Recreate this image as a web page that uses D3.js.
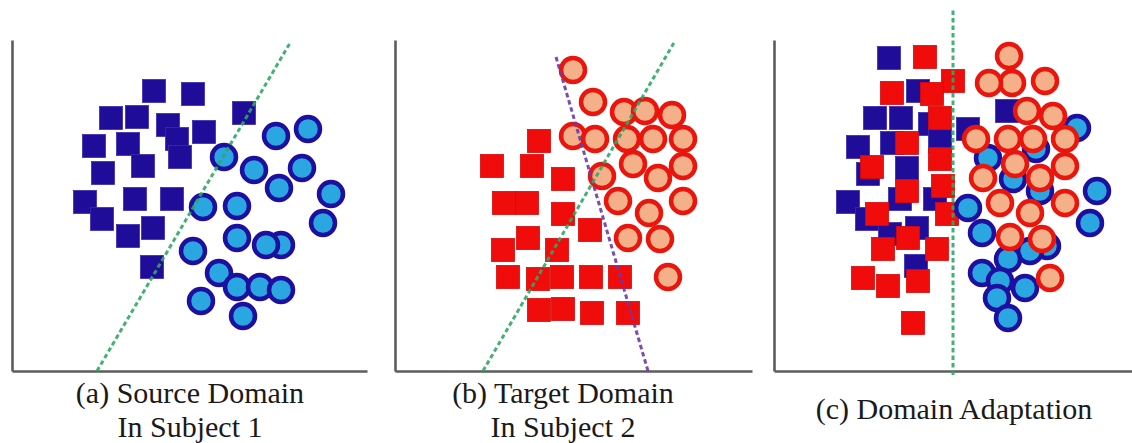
<!DOCTYPE html>
<html>
<head>
<meta charset="utf-8">
<script src="https://cdn.jsdelivr.net/npm/d3@7"></script>
<style>
  html, body { margin: 0; padding: 0; background: #ffffff; }
  svg { display: block; }
  .caption { font-family: "Liberation Serif", "Times New Roman", "DejaVu Serif", serif; }
</style>
</head>
<body>
<svg id="fig" width="1132" height="443"></svg>
<script>
// Feature-space coordinates (x, y) of each sample, per panel.

// (a) Source domain, subject 1
const sourceClassA_a = [
  [142,280],[181,277],[99,253],[125,254],[156,246],[232,258],[192,239],[82,225],
  [116,227],[165,232],[168,214],[91,198],[131,205],[73,169],[123,172],[160,172],
  [90,152],[116,135],[141,143],[140,104]
];
const sourceClassB_a = [
  [212,214],[264,235],[296,242],[242,201],[290,203],[267,183],[319,177],[191,164],
  [225,165],[311,148],[225,133],[269,126],[254,126],[181,120],[207,98],[225,84],
  [248,84],[269,81],[189,70],[231,55]
];
const boundarySource_a = [[85,0],[278,328]];

// (b) Target domain, subject 2
const targetClassA_b = [
  [144,230],[97,205],[137,205],[168,192],[109,168],[132,168],[168,157],[195,141],
  [133,133],[108,121],[162,121],[113,94],[143,92],[167,94],[196,94],[225,94],
  [144,61],[168,62],[197,58],[233,58]
];
const targetClassB_b = [
  [178,301],[198,269],[229,259],[250,260],[277,256],[178,235],[200,232],[232,232],
  [258,232],[288,232],[238,207],[288,205],[207,195],[263,193],[223,170],[288,170],
  [254,158],[233,133],[265,132],[273,94]
];
const boundarySource_b = [[88,0],[280,330]];
const boundaryTarget_b = [[161,314],[253,0]];

// (c) Domain adaptation: both domains in a shared space
const sourceClassA_c = [
  [115,313],[144,280],[101,253],[127,253],[156,247],[84,224],[118,228],[166,230],
  [94,197],[133,203],[74,169],[126,172],[161,172],[93,152],[143,143],[116,137],
  [142,105],[233,260],[194,242]
];
const targetClassA_c = [
  [151,314],[179,290],[118,278],[158,277],[166,253],[133,228],[166,212],[98,204],
  [133,180],[169,185],[103,157],[173,157],[134,133],[109,122],[163,122],[89,93],
  [114,85],[144,90],[139,48]
];
const sourceClassB_c = [
  [303,243],[214,213],[323,180],[194,163],[316,148],[208,138],[273,125],[256,120],
  [234,112],[208,98],[251,83],[226,90],[223,73],[234,53],[266,180],[239,192],
  [262,222]
];
const targetClassB_c = [
  [235,315],[238,288],[215,288],[271,290],[253,260],[279,255],[202,232],[234,232],
  [259,232],[291,232],[241,207],[291,205],[209,193],[266,193],[226,168],[291,168],
  [256,158],[236,134],[268,132],[276,93]
];
const boundaryShared_c = [[179,-4],[179,362]];

const captions = [
  ["(a) Source Domain", "In Subject 1"],
  ["(b) Target Domain", "In Subject 2"],
  ["(c) Domain Adaptation"]
];

// ---- styling ----
const style = {
  navy: "#1f0c98", navyEdge: "#3a2cb0",
  red: "#f10c0c", redEdge: "#d80808",
  blueFill: "#2aa6e0", blueEdge: "#1d0fa0",
  peachFill: "#f4b189", peachEdge: "#ea150c",
  green: "#2fa866", purple: "#6a3aa8",
  axis: "#5c5c5c"
};
const SQ = 23, R = 12, RING = 4.5;

const svg = d3.select("#fig");

const panels = [
  { x0: 12,  x1: 367,  yTop: 40, yBot: 371 },
  { x0: 395, x1: 752,  yTop: 40, yBot: 371 },
  { x0: 774, x1: 1132, yTop: 40, yBot: 371 }
];

function makeScales(p) {
  const x = d3.scaleLinear().domain([0, p.x1 - p.x0]).range([p.x0, p.x1]);
  const y = d3.scaleLinear().domain([0, p.yBot - p.yTop]).range([p.yBot, p.yTop]);
  return { x, y };
}

function drawAxes(g, p, s) {
  const ax = g.append("g").attr("transform", `translate(0,${p.yBot})`)
    .call(d3.axisBottom(s.x).ticks(0).tickSizeOuter(0));
  const ay = g.append("g").attr("transform", `translate(${p.x0},0)`)
    .call(d3.axisLeft(s.y).ticks(0).tickSizeOuter(0));
  [ax, ay].forEach(a => a.select(".domain")
    .attr("stroke", style.axis).attr("stroke-width", 2.6));
}

function drawSquares(g, s, data, fill, edge) {
  g.append("g").selectAll("rect").data(data).join("rect")
    .attr("x", d => s.x(d[0]) - SQ / 2)
    .attr("y", d => s.y(d[1]) - SQ / 2)
    .attr("width", SQ).attr("height", SQ)
    .attr("fill", fill).attr("stroke", edge).attr("stroke-width", 0.8);
}

function drawCircles(g, s, data, fill, edge) {
  g.append("g").selectAll("circle").data(data).join("circle")
    .attr("cx", d => s.x(d[0])).attr("cy", d => s.y(d[1]))
    .attr("r", R)
    .attr("fill", fill).attr("stroke", edge).attr("stroke-width", RING);
}

function drawBoundary(g, s, pts, color) {
  const line = d3.line().x(d => s.x(d[0])).y(d => s.y(d[1]));
  g.append("path").datum(pts).attr("d", line)
    .attr("fill", "none").attr("stroke", color)
    .attr("stroke-width", 3).attr("stroke-dasharray", "4.5,3")
    .attr("opacity", 0.9);
}

// (a)
{
  const p = panels[0], s = makeScales(p), g = svg.append("g");
  drawAxes(g, p, s);
  drawSquares(g, s, sourceClassA_a, style.navy, style.navyEdge);
  drawCircles(g, s, sourceClassB_a, style.blueFill, style.blueEdge);
  drawBoundary(g, s, boundarySource_a, style.green);
}
// (b)
{
  const p = panels[1], s = makeScales(p), g = svg.append("g");
  drawAxes(g, p, s);
  drawSquares(g, s, targetClassA_b, style.red, style.redEdge);
  drawCircles(g, s, targetClassB_b, style.peachFill, style.peachEdge);
  drawBoundary(g, s, boundaryTarget_b, style.purple);
  drawBoundary(g, s, boundarySource_b, style.green);
}
// (c)
{
  const p = panels[2], s = makeScales(p), g = svg.append("g");
  drawAxes(g, p, s);
  drawSquares(g, s, sourceClassA_c, style.navy, style.navyEdge);
  drawSquares(g, s, targetClassA_c, style.red, style.redEdge);
  drawCircles(g, s, sourceClassB_c, style.blueFill, style.blueEdge);
  drawCircles(g, s, targetClassB_c, style.peachFill, style.peachEdge);
  drawBoundary(g, s, boundaryShared_c, style.green);
}

// captions
const capPos = [
  { cx: 190, lines: [403, 437] },
  { cx: 563, lines: [403, 437] },
  { cx: 954, lines: [419] }
];
captions.forEach((lines, i) => {
  const t = svg.append("text")
    .attr("class", "caption")
    .attr("font-size", 30).attr("fill", "#1a1a1a")
    .attr("text-anchor", "middle");
  lines.forEach((ln, j) => {
    t.append("tspan").attr("x", capPos[i].cx).attr("y", capPos[i].lines[j]).text(ln);
  });
});
</script>
</body>
</html>
